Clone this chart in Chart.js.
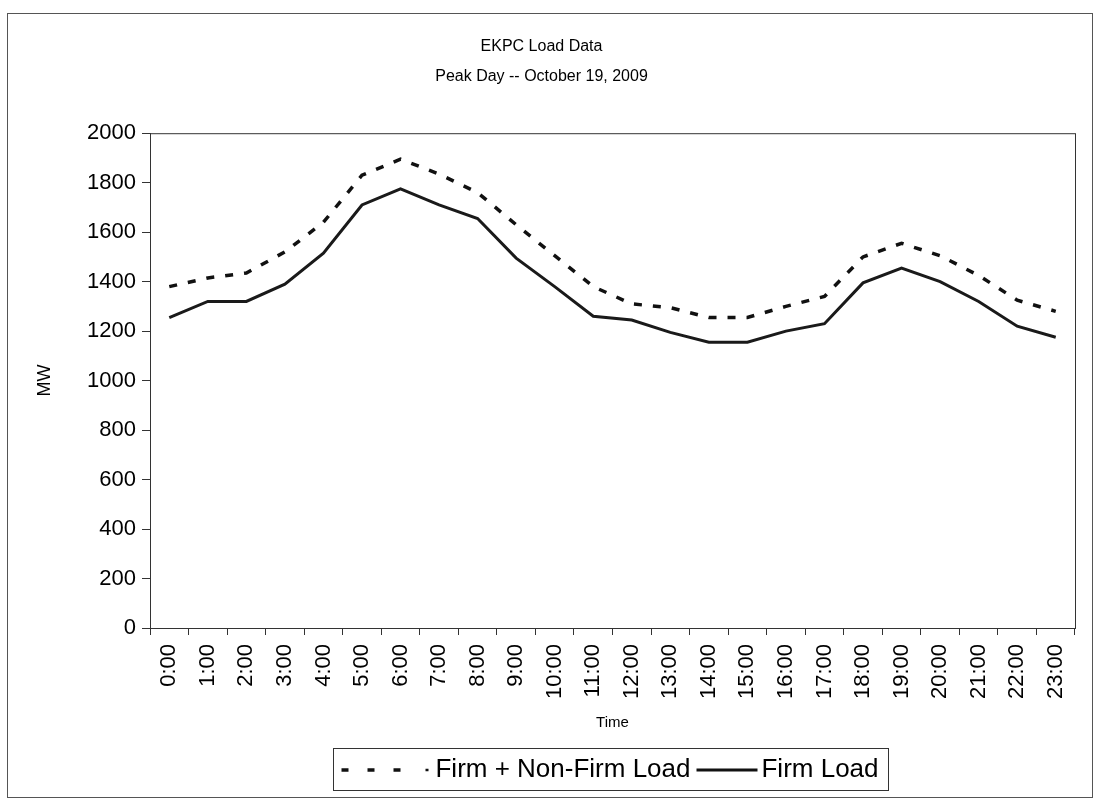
<!DOCTYPE html>
<html lang="en">
<head>
  <meta charset="UTF-8">
  <title>EKPC Load Data</title>
  <script src="https://cdn.jsdelivr.net/npm/chart.js@4"></script>
  <style>
    html, body { margin: 0; padding: 0; background: #fff; }
    #wrap { width: 1100px; height: 803px; }
  </style>
</head>
<body>
<div id="wrap"><canvas id="myChart" width="1100" height="803"></canvas></div>

<script>
// hourly data
const hours = ["0:00", "1:00", "2:00", "3:00", "4:00", "5:00", "6:00", "7:00", "8:00", "9:00", "10:00", "11:00",
  "12:00", "13:00", "14:00", "15:00", "16:00", "17:00", "18:00", "19:00", "20:00", "21:00", "22:00", "23:00"];
const totalLoad = [1380, 1415, 1435, 1520, 1640, 1830, 1895, 1835, 1760, 1630, 1505, 1380,
  1310, 1295, 1255, 1255, 1300, 1340, 1500, 1555, 1505, 1425, 1325, 1280];
const firmLoad = [1255, 1320, 1320, 1390, 1515, 1710, 1775, 1710, 1655, 1495, 1380, 1260,
  1245, 1195, 1155, 1155, 1200, 1230, 1395, 1455, 1400, 1320, 1220, 1175];
const yTicks = [0, 200, 400, 600, 800, 1000, 1200, 1400, 1600, 1800, 2000];

const font = "'Liberation Sans', Arial, sans-serif";
const dashPattern = [8, 11];

// line samples for the legend; the canvas is wider than the legend box so the
// dashed sample can reach out to the left and both end just before the text
const sampleBox = 50;
const sampleW = 116;
const sampleShift = 33;   // canvas x = box x + sampleShift
function sampleCanvas() {
  const c = document.createElement('canvas');
  c.width = sampleW;
  c.height = 8;
  const g = c.getContext('2d');
  g.strokeStyle = '#111';
  return [c, g];
}
function dashedSample() {
  const [c, g] = sampleCanvas();
  g.lineWidth = 3.5;
  g.setLineDash([7, 19]);
  g.beginPath();
  g.moveTo(2, 4);
  g.lineTo(62, 4);
  g.stroke();
  // the "- - - ·" ends in a small dot
  g.setLineDash([]);
  g.lineWidth = 2.5;
  g.beginPath();
  g.moveTo(86, 4);
  g.lineTo(89, 4);
  g.stroke();
  return c;
}
function solidSample() {
  const [c, g] = sampleCanvas();
  g.lineWidth = 3;
  g.beginPath();
  g.moveTo(31, 4);
  g.lineTo(92, 4);
  g.stroke();
  return c;
}
const samples = [dashedSample(), solidSample()];

// frame around the plot area, the whole chart and the legend
const framePlugin = {
  id: 'frames',
  afterLayout(chart) {
    // the legend sits right of centre in the original
    chart.legend.left += 84;
    chart.legend.right += 84;
  },
  afterDraw(chart) {
    const ctx = chart.ctx;
    const a = chart.chartArea;
    ctx.save();
    ctx.strokeStyle = '#333';
    ctx.lineWidth = 1;
    ctx.strokeRect(a.left + 0.5, a.top + 0.5, a.right - a.left, a.bottom - a.top);
    ctx.strokeStyle = '#555';
    ctx.strokeRect(7.5, 13.5, 1085, 784);

    const boxes = chart.legend.legendHitBoxes;
    if (boxes && boxes.length) {
      let l = Infinity, r = -Infinity, t = Infinity, b = -Infinity;
      boxes.forEach(hb => {
        l = Math.min(l, hb.left); r = Math.max(r, hb.left + hb.width);
        t = Math.min(t, hb.top); b = Math.max(b, hb.top + hb.height);
      });
      l -= sampleShift + 5;
      ctx.strokeStyle = '#333';
      ctx.strokeRect(Math.round(l) - 0.5, Math.round(t) - 8.5, Math.round(r - l) + 11, Math.round(b - t) + 16);
    }
    ctx.restore();
  }
};

const ctx = document.getElementById('myChart').getContext('2d');
new Chart(ctx, {
  type: 'line',
  data: {
    labels: hours,
    datasets: [{
      label: 'Firm + Non-Firm Load',
      data: totalLoad,
      borderColor: '#111',
      backgroundColor: '#111',
      borderWidth: 3.5,
      borderDash: dashPattern,
      pointRadius: 0,
      tension: 0
    }, {
      label: 'Firm Load',
      data: firmLoad,
      borderColor: '#1a1a1a',
      backgroundColor: '#1a1a1a',
      borderWidth: 3,
      pointRadius: 0,
      tension: 0
    }]
  },
  options: {
    responsive: false,
    animation: false,
    layout: { padding: { left: 8, right: 25, top: 14, bottom: 10 } },
    scales: {
      x: {
        offset: true,
        grid: { display: true, drawOnChartArea: false, drawTicks: true, tickLength: 7, color: '#333', offset: true },
        border: { display: true, color: '#333' },
        ticks: { color: '#000', font: { family: font, size: 22 }, minRotation: 90, maxRotation: 90, padding: 9, autoSkip: false },
        title: { display: true, text: 'Time', color: '#000', font: { family: font, size: 15 }, padding: { top: 4, bottom: 17 } },
        afterFit(scale) { scale.height = 121; }
      },
      y: {
        min: 0,
        max: 2000,
        afterBuildTicks(scale) { scale.ticks = yTicks.map(v => ({ value: v })); },
        grid: { display: true, drawOnChartArea: false, drawTicks: true, tickLength: 8, color: '#333' },
        border: { display: true, color: '#333' },
        ticks: { color: '#000', font: { family: font, size: 22 }, padding: 6, callback: v => String(v) },
        title: { display: true, text: 'MW', color: '#000', font: { family: font, size: 18 }, padding: { top: 26, bottom: 0 } },
        afterFit(scale) { scale.width = 142; }
      }
    },
    plugins: {
      title: {
        display: true,
        text: ['EKPC Load Data', 'Peak Day -- October 19, 2009'],
        color: '#000',
        font: { family: font, size: 16, weight: 'normal', lineHeight: 1.85 },
        padding: { top: 18, bottom: 42 }
      },
      legend: {
        position: 'bottom',
        labels: {
          color: '#000',
          font: { family: font, size: 26 },
          usePointStyle: true,
          pointStyleWidth: sampleBox,
          boxHeight: 8,
          padding: 8,
          generateLabels(chart) {
            const items = Chart.defaults.plugins.legend.labels.generateLabels(chart);
            items.forEach((it, i) => { it.pointStyle = samples[i]; });
            return items;
          }
        }
      },
      tooltip: { enabled: false }
    }
  },
  plugins: [framePlugin]
});
</script>
</body>
</html>
